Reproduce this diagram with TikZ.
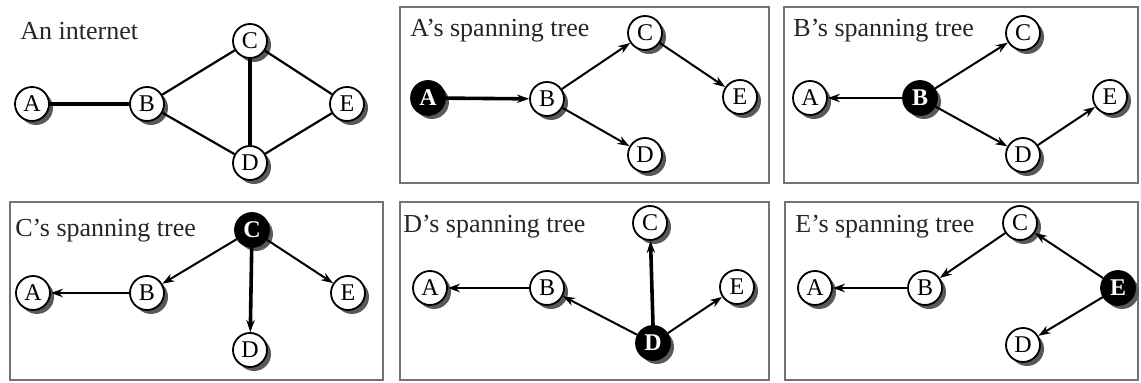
\documentclass[tikz,border=0pt]{standalone}
\usepackage{fontspec}
\setmainfont{Liberation Serif}
\usetikzlibrary{shadows,arrows.meta}
\begin{document}
\begin{tikzpicture}[x=0.5pt,y=-0.5pt,
  nd/.style={circle,draw,line width=0.9pt,fill=white,inner sep=0pt,minimum size=17pt,
    font=\fontsize{12}{13}\selectfont,
    drop shadow={shadow xshift=2pt,shadow yshift=-2pt,fill=black!65,opacity=1}},
  root/.style={nd,fill=black,text=white,font=\fontsize{12}{13}\selectfont\bfseries},
  ttl/.style={anchor=base west,inner sep=0pt,font=\fontsize{13}{15}\selectfont,text=black!85},
  panel/.style={draw=black!55,line width=0.9pt},
  ln/.style={line width=1.1pt},
  thk/.style={line width=2pt},
  arr/.style={-{Stealth[length=6pt,width=4.2pt]},line width=1pt},
  tarr/.style={arr,line width=1.8pt}]
\useasboundingbox (0,0) rectangle (1141,383);
\fill[white] (0,0) rectangle (1141,383);

% panel 1: the internet
\node[ttl] (t1) at (20,40) {An internet};
\node[nd] (iA) at (32,104) {A};
\node[nd] (iB) at (147,104) {B};
\node[nd] (iC) at (250,41) {C};
\node[nd] (iD) at (250,163) {D};
\node[nd] (iE) at (347,104) {E};
\draw[thk] (iA) -- (iB);
\draw[ln] (iB) -- (iC);
\draw[ln] (iB) -- (iD);
\draw[thk] (iC) -- (iD);
\draw[ln] (iC) -- (iE);
\draw[ln] (iD) -- (iE);

% panel 2: A's tree
\draw[panel] (400,7) rectangle (769,183);
\node[ttl] (t2) at (410,37) {A’s spanning tree};
\node[root] (aA) at (428,98) {A};
\node[nd] (aB) at (547,99) {B};
\node[nd] (aC) at (645,33) {C};
\node[nd] (aD) at (645,155) {D};
\node[nd] (aE) at (740,97) {E};
\draw[tarr] (aA) -- (aB);
\draw[arr] (aB) -- (aC);
\draw[arr] (aB) -- (aD);
\draw[arr] (aC) -- (aE);

% panel 3: B's tree
\draw[panel] (784,7) rectangle (1138,183);
\node[ttl] (t3) at (793,37) {B’s spanning tree};
\node[nd] (bA) at (810,98) {A};
\node[root] (bB) at (920,98) {B};
\node[nd] (bC) at (1023,33) {C};
\node[nd] (bD) at (1023,155) {D};
\node[nd] (bE) at (1110,97) {E};
\draw[arr,line width=1.3pt] (bB) -- (bA);
\draw[arr] (bB) -- (bC);
\draw[arr] (bB) -- (bD);
\draw[arr] (bD) -- (bE);

% panel 4: C's tree
\draw[panel] (10,202) rectangle (383,380);
\node[ttl] (t4) at (15,237) {C’s spanning tree};
\node[nd] (cA) at (33,293) {A};
\node[nd] (cB) at (147,293) {B};
\node[root] (cC) at (252,230) {C};
\node[nd] (cD) at (250,350) {D};
\node[nd] (cE) at (348,293) {E};
\draw[arr] (cC) -- (cB);
\draw[arr,line width=1.3pt] (cB) -- (cA);
\draw[tarr] (cC) -- (cD);
\draw[arr] (cC) -- (cE);

% panel 5: D's tree
\draw[panel] (400,202) rectangle (769,380);
\node[ttl] (t5) at (403,233) {D’s spanning tree};
\node[nd] (dA) at (430,288) {A};
\node[nd] (dB) at (547,288) {B};
\node[nd] (dC) at (650,223) {C};
\node[root] (dD) at (653,343) {D};
\node[nd] (dE) at (737,287) {E};
\draw[arr] (dD) -- (dB);
\draw[arr,line width=1.3pt] (dB) -- (dA);
\draw[tarr] (dD.north) -- (dC);
\draw[arr] (dD) -- (dE);

% panel 6: E's tree
\draw[panel] (785,202) rectangle (1138,380);
\node[ttl] (t6) at (795,233) {E’s spanning tree};
\node[nd] (eA) at (815,288) {A};
\node[nd] (eB) at (925,288) {B};
\node[nd] (eC) at (1020,223) {C};
\node[nd] (eD) at (1023,345) {D};
\node[root] (eE) at (1118,288) {E};
\draw[arr] (eE) -- (eC);
\draw[arr] (eC) -- (eB);
\draw[arr,line width=1.3pt] (eB) -- (eA);
\draw[arr] (eE) -- (eD);
\end{tikzpicture}
\end{document}
